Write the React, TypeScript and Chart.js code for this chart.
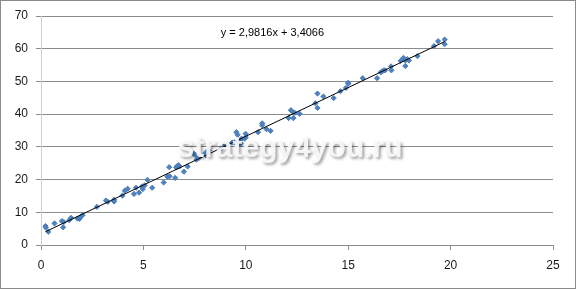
import React, { useEffect, useRef } from "react";
import { Chart, registerables } from "chart.js";

Chart.register(...registerables);

const xValues = [
  0.22, 0.24, 0.36, 0.66, 1.02, 1.11, 1.08, 1.38, 1.47, 1.78, 1.88, 1.95, 2.03,
  2.73, 3.17, 3.26, 3.57, 3.57, 3.98, 4.09, 4.23, 4.54, 4.64, 4.79, 4.93, 4.97,
  5.06, 5.2, 5.43, 5.99, 6.17, 6.28, 6.26, 6.55, 6.6, 6.66, 6.72, 6.76, 6.64,
  6.98, 7.16, 7.46, 7.53, 7.59, 7.66, 7.71, 8.02, 8.05, 8.14, 8.2, 8.05, 8.79,
  9.0, 9.33, 9.45, 9.54, 9.6, 9.72, 9.79, 9.74, 9.94, 9.99, 10.0, 10.6, 10.8,
  10.8, 11.01, 11.21, 12.09, 12.2, 12.29, 12.32, 12.39, 12.63, 13.4, 13.5,
  13.5, 13.79, 14.29, 14.62, 14.89, 15.0, 15.0, 15.71, 16.41, 16.59, 16.71,
  16.8, 17.09, 17.11, 17.56, 17.65, 17.7, 17.79, 17.88, 17.79, 17.97, 18.38,
  19.19, 19.39, 19.71, 19.71,
];

const yValues = [
  5.8, 5.3, 4.05, 6.6, 7.3, 7.0, 5.4, 7.6, 8.3, 8.1, 8.0, 8.7, 9.1,
  11.65, 13.6, 13.2, 13.8, 13.3, 15.1, 16.6, 17.2, 15.6, 17.5, 16.0, 17.9, 17.1,
  18.2, 19.9, 17.5, 19.1, 20.9, 21.0, 23.8, 20.5, 23.7, 24.2, 24.4, 24.0, 23.9,
  22.4, 24.0, 27.9, 27.5, 26.1, 27.1, 26.6, 27.8, 28.3, 28.6, 28.9, 27.5, 29.5,
  30.6, 31.3, 31.4, 34.5, 33.7, 31.3, 32.5, 31.0, 32.5, 34.0, 32.9, 34.5, 37.2,
  36.6, 35.4, 34.9, 38.8, 41.2, 40.7, 38.8, 40.4, 40.1, 43.3, 46.3,
  41.9, 45.4, 44.9, 47.0, 48.0, 49.6, 49.3, 51.0, 51.0, 52.8, 53.3,
  53.4, 54.6, 53.4, 56.3, 56.8, 57.2, 56.4, 56.8, 54.7, 56.4, 57.75,
  60.8, 62.3, 62.8, 61.4,
];

// Trendline endpoints
const trendX = [0.22, 19.71];
const trendY = [4.06, 62.17];

const equationText = "y = 2,9816x + 3,4066";
const watermarkText = "strategy4you.ru";

const xTicks = [0, 5, 10, 15, 20, 25];
const yTicks = [0, 10, 20, 30, 40, 50, 60, 70];

const overlayPlugin = {
  id: "overlay",
  afterDatasetsDraw(chart: any) {
    const ctx = chart.ctx;
    const xs = chart.scales.x;
    const ys = chart.scales.y;
    ctx.save();
    // equation label
    ctx.fillStyle = "#000";
    ctx.font = "11px 'Liberation Sans', Arial, sans-serif";
    ctx.textAlign = "center";
    ctx.textBaseline = "middle";
    ctx.fillText(equationText, xs.getPixelForValue(11.3), ys.getPixelForValue(64.8));
    // watermark
    ctx.font = "bold 30px 'Liberation Sans', Arial, sans-serif";
    ctx.textBaseline = "alphabetic";
    ctx.shadowColor = "rgba(0,0,0,0.4)";
    ctx.shadowBlur = 3;
    ctx.shadowOffsetX = 2;
    ctx.shadowOffsetY = 2;
    ctx.fillStyle = "rgba(248,248,248,0.92)";
    ctx.fillText(watermarkText, 290, 157);
    ctx.restore();
  },
  afterDraw(chart: any) {
    const ctx = chart.ctx;
    ctx.save();
    ctx.strokeStyle = "#8a8a8a";
    ctx.lineWidth = 1;
    ctx.strokeRect(0.5, 0.5, chart.width - 1, chart.height - 1);
    ctx.restore();
  },
};

export default function App() {
  const ref = useRef<HTMLCanvasElement | null>(null);
  useEffect(() => {
    if (!ref.current) return;
    const points = xValues.map((x, i) => ({ x, y: yValues[i] }));
    const trend = trendX.map((x, i) => ({ x, y: trendY[i] }));
    const chart = new Chart(ref.current, {
      type: "scatter",
      data: {
        datasets: [
          {
            type: "line",
            data: trend,
            borderColor: "#000",
            borderWidth: 1,
            pointRadius: 0,
            fill: false,
          } as any,
          {
            data: points,
            pointStyle: "rectRot",
            pointRadius: 2.6,
            backgroundColor: "#4F81BD",
            borderColor: "#4A7EBB",
            borderWidth: 1,
          },
        ],
      },
      options: {
        animation: false,
        responsive: false,
        maintainAspectRatio: false,
        layout: { padding: { top: 16, right: 23, left: 0, bottom: 0 } },
        plugins: { legend: { display: false }, tooltip: { enabled: false } },
        scales: {
          x: {
            type: "linear",
            min: 0,
            max: 25,
            afterBuildTicks: (s: any) => {
              s.ticks = xTicks.map((v) => ({ value: v }));
            },
            afterFit: (s: any) => {
              s.height = 44;
            },
            grid: {
              drawOnChartArea: false,
              drawTicks: true,
              tickLength: 5,
              color: "#8c8c8c",
            },
            border: { color: "#8c8c8c" },
            ticks: {
              padding: 8,
              color: "#1a1a1a",
              font: { family: "'Liberation Sans', Arial, sans-serif", size: 12 },
              maxRotation: 0,
            },
          },
          y: {
            type: "linear",
            min: 0,
            max: 70,
            afterBuildTicks: (s: any) => {
              s.ticks = yTicks.map((v) => ({ value: v }));
            },
            afterFit: (s: any) => {
              s.width = 41;
            },
            grid: {
              drawTicks: true,
              tickLength: 5,
              color: "#8c8c8c",
            },
            border: { color: "#d0d0d0" },
            ticks: {
              padding: 8,
              color: "#1a1a1a",
              font: { family: "'Liberation Sans', Arial, sans-serif", size: 12 },
            },
          },
        },
      },
      plugins: [overlayPlugin],
    });
    return () => chart.destroy();
  }, []);
  return (
    <div style={{ position: "fixed", left: 0, top: 0, width: 576, height: 289, background: "#fff" }}>
      <canvas ref={ref} width={576} height={289} style={{ display: "block" }} />
    </div>
  );
}
